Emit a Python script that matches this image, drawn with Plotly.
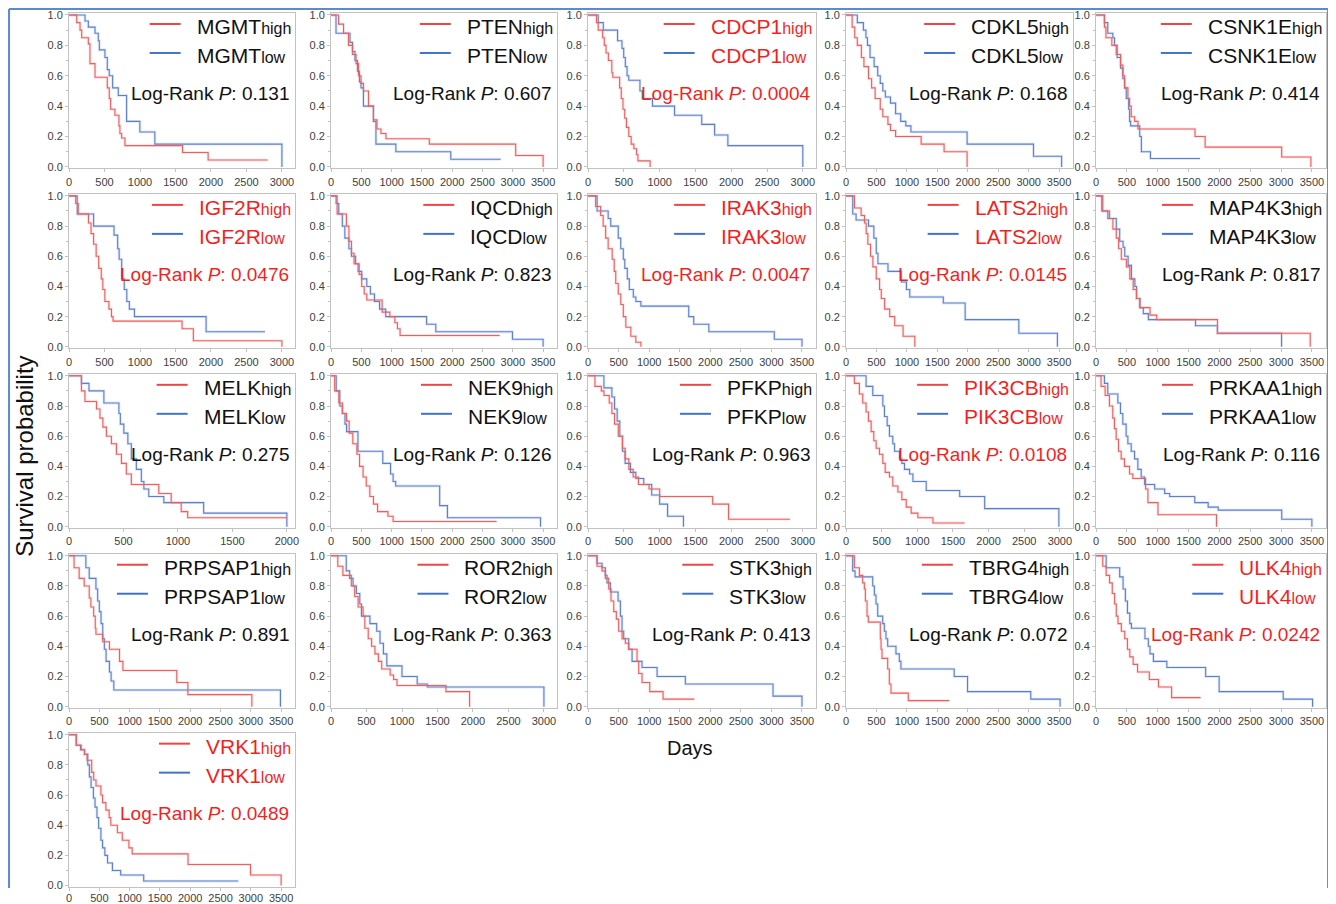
import plotly.graph_objects as go

# ------------------------------------------------------------------ data
genes = ["MGMT", "PTEN", "CDCP1", "CDKL5", "CSNK1E",
         "IGF2R", "IQCD", "IRAK3", "LATS2", "MAP4K3",
         "MELK", "NEK9", "PFKP", "PIK3CB", "PRKAA1",
         "PRPSAP1", "ROR2", "STK3", "TBRG4", "ULK4",
         "VRK1"]
p_values = ["0.131", "0.607", "0.0004", "0.168", "0.414",
            "0.0476", "0.823", "0.0047", "0.0145", "0.817",
            "0.275", "0.126", "0.963", "0.0108", "0.116",
            "0.891", "0.363", "0.413", "0.072", "0.0242",
            "0.0489"]
x_tick_max = [3000, 3500, 3000, 3500, 3500,
              3000, 3500, 3500, 3500, 3500,
              2000, 3500, 3000, 3000, 3500,
              3500, 3000, 3500, 3500, 3500,
              3500]
y_ticks = [0.0, 0.2, 0.4, 0.6, 0.8, 1.0]

mgmt_high_t = [0, 108, 155, 178, 272, 295, 366, 539, 567, 586, 647, 703, 717, 741, 788, 1600, 1960, 2800]
mgmt_high_s = [1, 0.95, 0.9, 0.85, 0.81, 0.68, 0.59, 0.52, 0.45, 0.38, 0.34, 0.27, 0.22, 0.19, 0.14, 0.095, 0.045, 0.045]
mgmt_low_t = [0, 225, 272, 366, 412, 427, 506, 539, 567, 614, 694, 811, 998, 1209, 3000]
mgmt_low_s = [1, 0.96, 0.92, 0.88, 0.83, 0.77, 0.72, 0.64, 0.6, 0.52, 0.47, 0.3, 0.23, 0.15, 0.0]

pten_high_t = [0, 124, 206, 288, 354, 412, 453, 494, 535, 618, 700, 758, 824, 906, 1622, 3047, 3500]
pten_high_s = [1, 0.94, 0.88, 0.8, 0.74, 0.68, 0.6, 0.55, 0.5, 0.4, 0.31, 0.25, 0.22, 0.185, 0.15, 0.075, 0.0]
pten_low_t = [0, 82, 313, 354, 395, 436, 469, 494, 535, 700, 741, 1070, 1976, 2800]
pten_low_s = [1, 0.88, 0.82, 0.76, 0.7, 0.63, 0.56, 0.52, 0.4, 0.3, 0.15, 0.1, 0.05, 0.05]

cdcp1_high_t = [0, 118, 142, 204, 227, 251, 284, 332, 346, 441, 464, 488, 512, 536, 569, 602, 640, 678, 697, 867]
cdcp1_high_s = [1, 0.95, 0.9, 0.85, 0.8, 0.75, 0.7, 0.62, 0.59, 0.52, 0.45, 0.38, 0.32, 0.26, 0.2, 0.15, 0.12, 0.08, 0.04, 0.0]
cdcp1_low_t = [0, 142, 213, 412, 474, 498, 521, 545, 569, 725, 758, 900, 1208, 1588, 1768, 1953, 3000]
cdcp1_low_s = [1, 0.95, 0.9, 0.83, 0.78, 0.72, 0.66, 0.6, 0.57, 0.5, 0.45, 0.4, 0.34, 0.28, 0.21, 0.14, 0.0]

cdkl5_high_t = [0, 100, 143, 185, 252, 294, 369, 420, 478, 562, 604, 688, 730, 814, 1234, 1611, 1989]
cdkl5_high_s = [1, 0.92, 0.85, 0.8, 0.72, 0.66, 0.58, 0.52, 0.45, 0.38, 0.33, 0.28, 0.24, 0.2, 0.15, 0.1, 0.0]
cdkl5_low_t = [0, 185, 285, 327, 352, 394, 461, 520, 562, 604, 646, 730, 814, 898, 982, 1066, 1989, 3080, 3542]
cdkl5_low_s = [1, 0.95, 0.9, 0.85, 0.8, 0.72, 0.66, 0.6, 0.55, 0.5, 0.46, 0.42, 0.35, 0.3, 0.27, 0.23, 0.15, 0.07, 0.0]

csnk1e_high_t = [0, 136, 160, 256, 327, 397, 435, 463, 517, 544, 571, 626, 680, 1605, 1769, 3010, 3484]
csnk1e_high_s = [1, 0.92, 0.85, 0.8, 0.74, 0.67, 0.6, 0.52, 0.45, 0.4, 0.33, 0.3, 0.25, 0.2, 0.13, 0.065, 0.0]
csnk1e_low_t = [0, 136, 190, 272, 299, 343, 397, 435, 463, 490, 528, 544, 561, 708, 735, 882, 1687]
csnk1e_low_s = [1, 0.95, 0.88, 0.85, 0.8, 0.72, 0.65, 0.58, 0.52, 0.45, 0.38, 0.3, 0.27, 0.2, 0.1, 0.055, 0.055]

igf2r_high_t = [0, 94, 130, 274, 310, 346, 382, 418, 454, 476, 505, 562, 598, 620, 1593, 1752, 3000]
igf2r_high_s = [1, 0.95, 0.88, 0.82, 0.75, 0.68, 0.6, 0.52, 0.45, 0.38, 0.3, 0.25, 0.2, 0.17, 0.12, 0.04, 0.0]
igf2r_low_t = [0, 115, 346, 634, 685, 706, 742, 778, 814, 850, 922, 1932, 2761]
igf2r_low_s = [1, 0.88, 0.8, 0.74, 0.65, 0.58, 0.45, 0.38, 0.3, 0.25, 0.2, 0.1, 0.1]

iqcd_high_t = [0, 100, 253, 295, 337, 380, 464, 506, 548, 590, 843, 970, 1054, 1096, 1139, 2783]
iqcd_high_s = [1, 0.88, 0.8, 0.7, 0.62, 0.55, 0.48, 0.4, 0.35, 0.31, 0.23, 0.2, 0.16, 0.12, 0.075, 0.075]
iqcd_low_t = [0, 84, 127, 186, 228, 295, 337, 405, 447, 506, 590, 649, 717, 801, 902, 1577, 1729, 2994, 3500]
iqcd_low_s = [1, 0.95, 0.88, 0.8, 0.72, 0.65, 0.6, 0.55, 0.5, 0.45, 0.4, 0.35, 0.3, 0.25, 0.2, 0.15, 0.1, 0.05, 0.0]

irak3_high_t = [0, 124, 206, 247, 288, 329, 395, 428, 453, 494, 535, 577, 618, 700, 782, 865]
irak3_high_s = [1, 0.93, 0.87, 0.8, 0.72, 0.65, 0.58, 0.5, 0.42, 0.35, 0.28, 0.2, 0.13, 0.07, 0.03, 0.0]
irak3_low_t = [0, 148, 329, 371, 494, 535, 577, 601, 642, 675, 741, 782, 865, 1647, 1729, 1976, 3047, 3500]
irak3_low_s = [1, 0.9, 0.85, 0.8, 0.72, 0.65, 0.58, 0.52, 0.45, 0.38, 0.33, 0.3, 0.27, 0.2, 0.15, 0.1, 0.05, 0.0]

lats2_high_t = [0, 138, 248, 303, 331, 358, 402, 441, 496, 551, 579, 634, 717, 799, 937, 1130]
lats2_high_s = [1, 0.92, 0.87, 0.82, 0.75, 0.68, 0.6, 0.53, 0.45, 0.38, 0.32, 0.25, 0.2, 0.14, 0.07, 0.0]
lats2_low_t = [0, 110, 165, 369, 457, 496, 524, 689, 910, 992, 1047, 1598, 1957, 2839, 3473]
lats2_low_s = [1, 0.88, 0.84, 0.8, 0.72, 0.62, 0.55, 0.5, 0.43, 0.38, 0.33, 0.29, 0.18, 0.09, 0.0]

map4k3_high_t = [0, 109, 219, 273, 328, 366, 410, 492, 547, 602, 656, 711, 875, 984, 1969, 3473]
map4k3_high_s = [1, 0.9, 0.85, 0.78, 0.72, 0.65, 0.58, 0.53, 0.45, 0.38, 0.32, 0.26, 0.21, 0.18, 0.09, 0.0]
map4k3_low_t = [0, 93, 191, 328, 383, 438, 465, 520, 574, 629, 656, 711, 766, 848, 1613, 1969, 3008]
map4k3_low_s = [1, 0.9, 0.85, 0.78, 0.7, 0.66, 0.6, 0.54, 0.45, 0.4, 0.32, 0.26, 0.22, 0.18, 0.14, 0.09, 0.0]

melk_high_t = [0, 114, 146, 252, 284, 311, 343, 389, 435, 481, 526, 572, 824, 938, 1030, 1089, 2000]
melk_high_s = [1, 0.9, 0.83, 0.78, 0.72, 0.66, 0.6, 0.55, 0.48, 0.42, 0.35, 0.28, 0.22, 0.16, 0.1, 0.06, 0.06]
melk_low_t = [0, 114, 183, 320, 458, 471, 503, 540, 572, 618, 664, 687, 732, 870, 1236, 2000]
melk_low_s = [1, 0.95, 0.9, 0.82, 0.75, 0.68, 0.62, 0.55, 0.45, 0.38, 0.3, 0.25, 0.2, 0.16, 0.09, 0.0]

nek9_high_t = [0, 60, 128, 188, 256, 299, 359, 427, 470, 529, 581, 640, 700, 768, 939, 1024, 2732]
nek9_high_s = [1, 0.9, 0.82, 0.75, 0.7, 0.62, 0.55, 0.48, 0.4, 0.33, 0.27, 0.2, 0.15, 0.1, 0.07, 0.035, 0.035]
nek9_low_t = [0, 85, 145, 188, 230, 256, 444, 854, 982, 1024, 1067, 1793, 1921, 3457]
nek9_low_s = [1, 0.9, 0.8, 0.75, 0.68, 0.63, 0.5, 0.42, 0.35, 0.3, 0.27, 0.14, 0.06, 0.0]

pfkp_high_t = [0, 96, 185, 222, 296, 333, 370, 422, 481, 518, 570, 630, 704, 852, 1000, 1741, 1963, 2820]
pfkp_high_s = [1, 0.93, 0.9, 0.87, 0.82, 0.75, 0.68, 0.6, 0.52, 0.45, 0.38, 0.33, 0.28, 0.25, 0.2, 0.15, 0.05, 0.05]
pfkp_low_t = [0, 222, 333, 370, 407, 444, 481, 518, 592, 667, 778, 889, 1000, 1111, 1333]
pfkp_low_s = [1, 0.92, 0.86, 0.78, 0.7, 0.6, 0.5, 0.42, 0.36, 0.32, 0.28, 0.21, 0.15, 0.07, 0.0]

pik3cb_high_t = [0, 117, 187, 234, 281, 314, 352, 389, 422, 469, 516, 549, 609, 656, 727, 783, 844, 914, 1008, 1219, 1664]
pik3cb_high_s = [1, 0.95, 0.88, 0.82, 0.76, 0.7, 0.63, 0.57, 0.52, 0.48, 0.42, 0.36, 0.33, 0.27, 0.23, 0.18, 0.13, 0.09, 0.06, 0.025, 0.025]
pik3cb_low_t = [0, 281, 375, 516, 539, 577, 609, 656, 680, 750, 783, 820, 891, 938, 1125, 1594, 1945, 2986]
pik3cb_low_s = [1, 0.93, 0.87, 0.8, 0.73, 0.67, 0.6, 0.55, 0.5, 0.45, 0.42, 0.38, 0.35, 0.3, 0.24, 0.2, 0.12, 0.0]

prkaa1_high_t = [0, 81, 147, 217, 271, 298, 326, 364, 407, 461, 543, 597, 803, 841, 1004, 1953]
prkaa1_high_s = [1, 0.93, 0.87, 0.8, 0.72, 0.65, 0.58, 0.5, 0.45, 0.4, 0.35, 0.32, 0.25, 0.16, 0.08, 0.0]
prkaa1_low_t = [0, 136, 190, 353, 396, 434, 488, 516, 570, 624, 678, 732, 787, 950, 1112, 1194, 1601, 1818, 1981, 3011, 3500]
prkaa1_low_s = [1, 0.95, 0.88, 0.82, 0.75, 0.68, 0.6, 0.55, 0.5, 0.45, 0.38, 0.33, 0.28, 0.25, 0.22, 0.2, 0.16, 0.13, 0.11, 0.05, 0.0]

prpsap1_high_t = [0, 83, 167, 250, 333, 361, 406, 433, 444, 556, 667, 833, 889, 1778, 1961, 3017]
prpsap1_high_s = [1, 0.92, 0.85, 0.8, 0.72, 0.66, 0.6, 0.52, 0.48, 0.43, 0.38, 0.3, 0.24, 0.16, 0.08, 0.0]
prpsap1_low_t = [0, 278, 333, 444, 472, 500, 528, 556, 583, 611, 667, 694, 739, 3489]
prpsap1_low_s = [1, 0.92, 0.85, 0.78, 0.7, 0.63, 0.55, 0.45, 0.38, 0.3, 0.23, 0.17, 0.11, 0.0]

ror2_high_t = [0, 95, 167, 286, 333, 381, 452, 476, 524, 571, 619, 667, 714, 833, 881, 929, 1619, 1952]
ror2_high_s = [1, 0.93, 0.87, 0.8, 0.73, 0.66, 0.6, 0.52, 0.45, 0.4, 0.35, 0.3, 0.25, 0.21, 0.18, 0.14, 0.1, 0.0]
ror2_low_t = [0, 214, 262, 310, 357, 405, 429, 548, 643, 690, 738, 786, 1000, 1214, 1357, 3000]
ror2_low_s = [1, 0.9, 0.85, 0.8, 0.75, 0.68, 0.6, 0.55, 0.5, 0.42, 0.35, 0.27, 0.2, 0.15, 0.13, 0.0]

stk3_high_t = [0, 147, 229, 283, 338, 376, 420, 463, 501, 556, 610, 665, 801, 829, 883, 1009, 1227, 1739]
stk3_high_s = [1, 0.93, 0.9, 0.85, 0.78, 0.7, 0.63, 0.58, 0.5, 0.45, 0.42, 0.38, 0.3, 0.22, 0.16, 0.1, 0.05, 0.05]
stk3_low_t = [0, 147, 229, 283, 310, 365, 491, 529, 556, 583, 665, 720, 883, 1129, 1592, 3026, 3500]
stk3_low_s = [1, 0.95, 0.92, 0.87, 0.82, 0.76, 0.7, 0.6, 0.5, 0.45, 0.38, 0.3, 0.26, 0.2, 0.15, 0.07, 0.0]

tbrg4_high_t = [0, 137, 219, 273, 301, 318, 345, 366, 563, 575, 591, 684, 711, 738, 1023, 1695]
tbrg4_high_s = [1, 0.92, 0.87, 0.82, 0.78, 0.7, 0.6, 0.56, 0.45, 0.38, 0.32, 0.25, 0.15, 0.09, 0.04, 0.04]
tbrg4_low_t = [0, 109, 148, 438, 465, 492, 520, 602, 629, 656, 684, 820, 875, 902, 1777, 1996, 3035, 3517]
tbrg4_low_s = [1, 0.9, 0.86, 0.8, 0.74, 0.68, 0.6, 0.55, 0.5, 0.45, 0.4, 0.35, 0.3, 0.25, 0.2, 0.1, 0.05, 0.0]

ulk4_high_t = [0, 109, 164, 219, 263, 301, 328, 356, 410, 465, 509, 547, 602, 673, 864, 1012, 1225, 1695]
ulk4_high_s = [1, 0.93, 0.87, 0.82, 0.75, 0.68, 0.6, 0.55, 0.5, 0.45, 0.38, 0.33, 0.28, 0.23, 0.18, 0.13, 0.06, 0.06]
ulk4_low_t = [0, 164, 383, 438, 476, 509, 547, 574, 793, 848, 875, 930, 1148, 1777, 1996, 3035, 3511]
ulk4_low_s = [1, 0.92, 0.86, 0.78, 0.7, 0.62, 0.55, 0.52, 0.45, 0.4, 0.35, 0.3, 0.26, 0.2, 0.1, 0.05, 0.0]

vrk1_high_t = [0, 119, 201, 255, 298, 374, 407, 445, 526, 553, 608, 662, 689, 798, 879, 988, 1042, 1964, 2995, 3500]
vrk1_high_s = [1, 0.93, 0.9, 0.87, 0.83, 0.75, 0.7, 0.66, 0.6, 0.55, 0.5, 0.45, 0.4, 0.35, 0.3, 0.25, 0.21, 0.14, 0.07, 0.0]
vrk1_low_t = [0, 119, 190, 255, 309, 336, 364, 402, 429, 461, 488, 526, 553, 591, 635, 716, 852, 1232, 2794]
vrk1_low_s = [1, 0.93, 0.9, 0.87, 0.8, 0.72, 0.65, 0.58, 0.52, 0.45, 0.38, 0.3, 0.25, 0.2, 0.15, 0.1, 0.07, 0.03, 0.03]

high_curves = [
    (mgmt_high_t, mgmt_high_s), (pten_high_t, pten_high_s), (cdcp1_high_t, cdcp1_high_s),
    (cdkl5_high_t, cdkl5_high_s), (csnk1e_high_t, csnk1e_high_s), (igf2r_high_t, igf2r_high_s),
    (iqcd_high_t, iqcd_high_s), (irak3_high_t, irak3_high_s), (lats2_high_t, lats2_high_s),
    (map4k3_high_t, map4k3_high_s), (melk_high_t, melk_high_s), (nek9_high_t, nek9_high_s),
    (pfkp_high_t, pfkp_high_s), (pik3cb_high_t, pik3cb_high_s), (prkaa1_high_t, prkaa1_high_s),
    (prpsap1_high_t, prpsap1_high_s), (ror2_high_t, ror2_high_s), (stk3_high_t, stk3_high_s),
    (tbrg4_high_t, tbrg4_high_s), (ulk4_high_t, ulk4_high_s), (vrk1_high_t, vrk1_high_s)]
low_curves = [
    (mgmt_low_t, mgmt_low_s), (pten_low_t, pten_low_s), (cdcp1_low_t, cdcp1_low_s),
    (cdkl5_low_t, cdkl5_low_s), (csnk1e_low_t, csnk1e_low_s), (igf2r_low_t, igf2r_low_s),
    (iqcd_low_t, iqcd_low_s), (irak3_low_t, irak3_low_s), (lats2_low_t, lats2_low_s),
    (map4k3_low_t, map4k3_low_s), (melk_low_t, melk_low_s), (nek9_low_t, nek9_low_s),
    (pfkp_low_t, pfkp_low_s), (pik3cb_low_t, pik3cb_low_s), (prkaa1_low_t, prkaa1_low_s),
    (prpsap1_low_t, prpsap1_low_s), (ror2_low_t, ror2_low_s), (stk3_low_t, stk3_low_s),
    (tbrg4_low_t, tbrg4_low_s), (ulk4_low_t, ulk4_low_s), (vrk1_low_t, vrk1_low_s)]

# ------------------------------------------------------------------ layout geometry
# target positions are given in picture pixels; they are converted to page pixels with a
# small calibration (the photographed page appears slightly shrunk and shifted)
OX, OY = 8, 8            # default body margin of the html page
FW, FH = 1324, 896       # figure size
CAL_AX, CAL_BX = 0.9947, 3.0
CAL_AY, CAL_BY = 0.977, 5.2
col_left = [69, 331, 588, 846, 1096]
col_right = [295, 557, 816, 1073, 1326]
row_top = [15, 196, 376, 556, 735]
row_bot = [167, 347, 527, 707, 886]
range_for_ticks = {2000: 2075, 3000: 3185, 3500: 3730}


def fx(T):
    P = (T - CAL_BX) / CAL_AX
    return (P - OX) / FW


def fy(T):
    P = (T - CAL_BY) / CAL_AY
    return 1 - (P - OY) / FH


def clamp01(v):
    return min(1.0, max(0.0, v))


ARIAL = {'A': .667, 'B': .667, 'C': .722, 'D': .722, 'E': .667, 'F': .611, 'G': .778, 'H': .722,
         'I': .278, 'J': .5, 'K': .667, 'L': .556, 'M': .833, 'N': .722, 'O': .778, 'P': .667,
         'Q': .778, 'R': .722, 'S': .667, 'T': .611, 'U': .722, 'V': .667, 'W': .944, 'X': .667,
         'Y': .667, 'Z': .611, 'h': .556, 'i': .222, 'g': .556, 'l': .222, 'o': .556, 'w': .722}


def text_w(s, size):
    return sum(ARIAL.get(c, .556) for c in s) * size


RED_LINE = "#ee5f5f"
BLUE_LINE = "#5d80cd"
RED_HALO = "rgba(240,130,130,0.22)"
BLUE_HALO = "rgba(120,150,215,0.22)"
RED_TEXT = "#f41f1f"
BLACK_TEXT = "#111111"
FONT = "Liberation Sans, Arial, sans-serif"
GENE_SIZE, SUB_SIZE, P_SIZE = 21, 16, 19
AXIS_C = "#c2c2c2"

fig = go.Figure()
layout = dict(width=FW, height=FH, margin=dict(l=0, r=0, t=0, b=0),
              paper_bgcolor="white", plot_bgcolor="white", showlegend=False,
              font=dict(family=FONT))
annotations = []
shapes = []

for i, gene in enumerate(genes):
    r, c = divmod(i, 5)
    sfx = "" if i == 0 else str(i + 1)
    L, R, T, B = col_left[c], col_right[c], row_top[r], row_bot[r]
    ph = B - T
    tmax = x_tick_max[i]
    layout["xaxis" + sfx] = dict(
        domain=[clamp01(fx(L)), clamp01(fx(R))], range=[0, range_for_ticks[tmax]],
        anchor="y" + sfx,
        tickmode="linear", tick0=0, dtick=500, showgrid=False, zeroline=False,
        showline=True, mirror=True, linecolor=AXIS_C, linewidth=1,
        ticks="outside", ticklen=3, tickcolor=AXIS_C,
        ticklabelstandoff=(-2 if r == 4 else 0),
        tickfont=dict(size=11, color="#404040", family=FONT))
    layout["yaxis" + sfx] = dict(
        domain=[clamp01(fy(B + 0.01 * ph)), clamp01(fy(T - 0.01 * ph))],
        range=[-0.01, 1.01], anchor="x" + sfx,
        tickmode="array", tickvals=y_ticks, ticktext=[f"{v:.1f}" for v in y_ticks],
        showgrid=False, zeroline=False, showline=True, mirror=True,
        linecolor=AXIS_C, linewidth=1, ticks="outside", ticklen=3, tickcolor=AXIS_C,
        minor=dict(tickvals=[0.1, 0.3, 0.5, 0.7, 0.9], ticks="outside", ticklen=2,
                   tickcolor=AXIS_C),
        tickfont=dict(size=11, color="#404040", family=FONT))

    for (t, s), line_c, halo_c in ((low_curves[i], BLUE_LINE, BLUE_HALO),
                                   (high_curves[i], RED_LINE, RED_HALO)):
        fig.add_trace(go.Scatter(x=t, y=s, mode="lines", xaxis="x" + sfx, yaxis="y" + sfx,
                                 line=dict(color=halo_c, width=2.8, shape="hv"),
                                 hoverinfo="skip"))
        fig.add_trace(go.Scatter(x=t, y=s, mode="lines", xaxis="x" + sfx, yaxis="y" + sfx,
                                 line=dict(color=line_c, width=1.1, shape="hv"),
                                 hoverinfo="skip"))

    significant = float(p_values[i]) < 0.05
    tc = RED_TEXT if significant else BLACK_TEXT
    w_high = text_w(gene, GENE_SIZE) + text_w("high", SUB_SIZE)
    text_left = R - 6 - w_high
    for suffix, lc, dy_line, dy_text in (("high", "#f04545", 9, 12),
                                         ("low", "#3f74c8", 38, 41)):
        annotations.append(dict(
            xref="paper", yref="paper", x=fx(text_left), y=fy(T + dy_text),
            xanchor="left", yanchor="middle", showarrow=False,
            text=f"{gene}<span style='font-size:{SUB_SIZE}px'>{suffix}</span>",
            font=dict(size=GENE_SIZE, color=tc, family=FONT)))
        shapes.append(dict(type="line", xref="paper", yref="paper",
                           x0=fx(text_left - 45), x1=fx(text_left - 14),
                           y0=fy(T + dy_line), y1=fy(T + dy_line),
                           line=dict(color=lc, width=2)))
    annotations.append(dict(
        xref="paper", yref="paper", x=fx(R - 4), y=fy(T + 79),
        xanchor="right", yanchor="middle", showarrow=False,
        text=f"Log-Rank <i>P</i>: {p_values[i]}",
        font=dict(size=P_SIZE, color=tc, family=FONT)))

annotations.append(dict(xref="paper", yref="paper", x=fx(25), y=fy(457), textangle=-90,
                        xanchor="center", yanchor="middle", showarrow=False,
                        text="Survival probability",
                        font=dict(size=24, color="#111111", family=FONT)))
annotations.append(dict(xref="paper", yref="paper", x=fx(690), y=fy(748),
                        xanchor="center", yanchor="middle", showarrow=False,
                        text="Days", font=dict(size=20, color="#111111", family=FONT)))

# outer blue frame (its bottom edge lies below the visible area)
FRAME = dict(color="#5a8ad0", width=2)
shapes.append(dict(type="line", xref="paper", yref="paper",
                   x0=fx(9), x1=fx(1328), y0=fy(9), y1=fy(9), line=FRAME))
shapes.append(dict(type="line", xref="paper", yref="paper",
                   x0=fx(9), x1=fx(9), y0=fy(9), y1=0, line=FRAME))
shapes.append(dict(type="line", xref="paper", yref="paper",
                   x0=fx(1328), x1=fx(1328), y0=fy(9), y1=0, line=FRAME))

layout["annotations"] = annotations
layout["shapes"] = shapes
fig.update_layout(**layout)
fig.write_html("out.html")
